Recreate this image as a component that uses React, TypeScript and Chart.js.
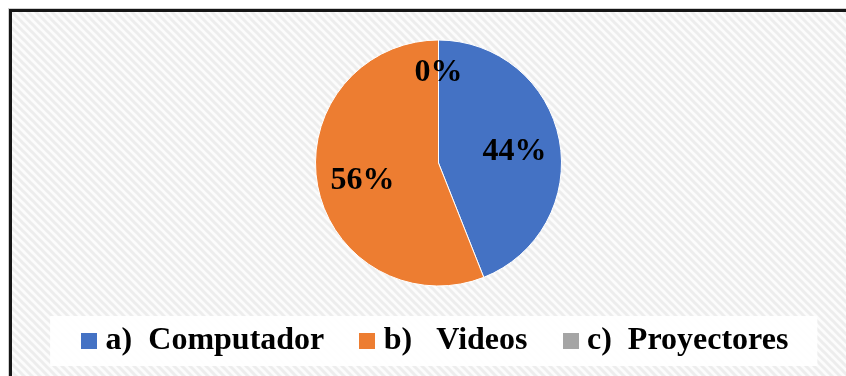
import { useEffect, useRef } from 'react';
import { Chart, registerables } from 'chart.js';

Chart.register(...registerables);

const categories = ['a)  Computador', 'b)   Videos', 'c)  Proyectores'];
const values = [44, 56, 0];
const valueLabels = ['44%', '56%', '0%'];
const colors = ['#4472C4', '#ED7D31', '#A5A5A5'];

const FONT = '"Liberation Serif", "Times New Roman", serif';

function swatch(color: string) {
  const c = document.createElement('canvas');
  c.width = 16;
  c.height = 16;
  const g = c.getContext('2d')!;
  g.fillStyle = color;
  g.fillRect(0, 0, 16, 16);
  return c;
}

function makePattern(ctx: CanvasRenderingContext2D) {
  const t = document.createElement('canvas');
  t.width = 8;
  t.height = 8;
  const g = t.getContext('2d')!;
  g.fillStyle = '#fcfcfc';
  g.fillRect(0, 0, 8, 8);
  g.strokeStyle = '#ededed';
  g.lineWidth = 3;
  g.beginPath();
  for (let k = -8; k <= 8; k += 8) {
    g.moveTo(k - 2, -2);
    g.lineTo(k + 10, 10);
  }
  g.stroke();
  return ctx.createPattern(t, 'repeat')!;
}

const bgPlugin = {
  id: 'bgPlugin',
  beforeDraw(chart: any) {
    const { ctx, width, height } = chart;
    ctx.save();
    ctx.fillStyle = '#ffffff';
    ctx.fillRect(0, 0, width, height);
    ctx.fillStyle = makePattern(ctx);
    ctx.fillRect(10, 10, width - 10, height - 10);
    ctx.fillStyle = '#cfcfcf';
    ctx.fillRect(8, 8, 1, height);
    ctx.fillRect(8, 8, width, 1);
    ctx.fillStyle = '#151515';
    ctx.fillRect(9, 9, 3, height);
    ctx.fillRect(9, 9, width, 3);
    const hb = chart.legend && chart.legend.legendHitBoxes;
    if (hb && hb.length) {
      const l = hb[0].left - 38.5;
      const last = hb[hb.length - 1];
      const r = last.left + last.width + 29;
      const top = hb[0].top - 9;
      ctx.fillStyle = 'rgba(255,255,255,0.95)';
      ctx.fillRect(l, top, r - l, 50);
    }
    ctx.restore();
  },
};

const labelPlugin = {
  id: 'sliceLabels',
  afterDatasetsDraw(chart: any) {
    const meta = chart.getDatasetMeta(0);
    const ctx = chart.ctx;
    ctx.save();
    ctx.font = `bold 32px ${FONT}`;
    ctx.fillStyle = '#000';
    ctx.textAlign = 'center';
    ctx.textBaseline = 'middle';
    meta.data.forEach((arc: any, i: number) => {
      const { x, y, startAngle, endAngle, outerRadius } = arc.getProps(
        ['x', 'y', 'startAngle', 'endAngle', 'outerRadius'],
        true
      );
      const mid = (startAngle + endAngle) / 2;
      const f = values[i] === 0 ? 0.76 : 0.63;
      ctx.fillText(valueLabels[i], x + Math.cos(mid) * outerRadius * f, y + Math.sin(mid) * outerRadius * f + 3);
    });
    ctx.restore();
  },
};

export default function App() {
  const ref = useRef<HTMLCanvasElement>(null);
  useEffect(() => {
    const swatches = colors.map(swatch);
    const chart = new Chart(ref.current!, {
      type: 'pie',
      data: {
        labels: categories,
        datasets: [
          {
            data: values,
            backgroundColor: colors,
            borderColor: '#ffffff',
            borderWidth: 1,
            radius: 123,
            clip: false,
          } as any,
        ],
      },
      options: {
        animation: false,
        responsive: true,
        maintainAspectRatio: false,
        layout: { padding: { left: 31, right: 0, top: 43.5, bottom: 9 } },
        plugins: {
          tooltip: { enabled: false },
          legend: {
            position: 'bottom',
            labels: {
              usePointStyle: true,
              pointStyleWidth: 1,
              padding: 42.5,
              color: '#000',
              font: { family: FONT, size: 32, weight: 'bold' },
              generateLabels: () =>
                categories.map((t, i) => ({
                  text: t,
                  fillStyle: colors[i],
                  strokeStyle: colors[i],
                  lineWidth: 0,
                  pointStyle: swatches[i] as any,
                  hidden: false,
                  index: i,
                  fontColor: '#000',
                })),
            },
          },
        },
      } as any,
      plugins: [bgPlugin, labelPlugin],
    });
    return () => chart.destroy();
  }, []);
  return (
    <div style={{ position: 'fixed', left: 0, top: 0, width: 846, height: 376 }}>
      <canvas ref={ref} />
    </div>
  );
}
